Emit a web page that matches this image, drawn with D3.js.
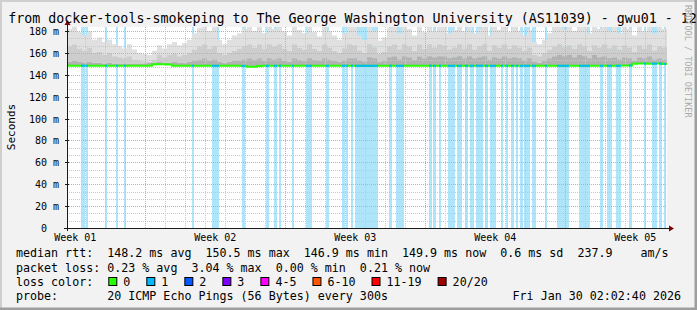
<!DOCTYPE html>
<html>
<head>
<meta charset="utf-8">
<script src="https://cdn.jsdelivr.net/npm/d3@7"></script>
<style>
  body { margin: 0; background: #fff; }
  svg { display: block; }
  text { font-family: "DejaVu Sans Mono", monospace; white-space: pre; }
</style>
</head>
<body>
<svg width="697" height="310"></svg>
<script>
// ---- data ----
var titleText = "from docker-tools-smokeping to The George Washington University (AS11039) - gwu01 - 12";
var startTime = new Date(2025, 11, 31, 2, 2, 40);   // left edge of the plot
var stepSeconds = 4320;                              // one column = one rrd step
var stepCount = 600;
var bucketSize = 5;                                  // smoke / median read every 5 steps

var yTickValues = [0, 20, 40, 60, 80, 100, 120, 140, 160, 180];
var yTickLabels = ["0  ", "20 m", "40 m", "60 m", "80 m", "100 m", "120 m", "140 m", "160 m", "180 m"];
var weekLabels = ["Week 01", "Week 02", "Week 03", "Week 04", "Week 05"];

// smoke: top of the lightest band (max ping), ms
var smokeMax = [
  182,184,179,176,180,172,174,170,172,168,
  166,164,168,163,160,159,158,162,167,164,
  168,170,167,169,172,178,183,184,180,184,
  172,168,172,176,178,182,184,180,184,178,
  184,182,184,180,176,184,181,178,184,179,
  175,184,180,176,172,178,184,184,176,172,
  184,180,171,174,183,184,178,184,182,176,
  184,179,184,180,184,184,178,181,184,180,
  184,178,182,184,176,184,181,184,179,184,
  180,176,181,170,168,172,178,184,184,182,
  184,180,184,184,178,184,182,184,180,184,
  178,184,182,176,184,180,184,178,184,182];
// smoke: top of the middle grey band
var smokeHigh = [
  166,168,164,162,165,160,161,158,160,157,
  156,155,157,154,153,152,152,154,158,156,
  158,159,157,158,160,163,166,168,164,166,
  160,158,160,162,164,166,168,165,168,164,
  168,166,168,164,162,168,165,163,168,164,
  162,168,165,162,160,164,168,167,162,160,
  168,165,159,161,166,168,163,168,166,162,
  168,164,168,165,168,167,163,165,168,164,
  168,163,166,168,162,167,165,168,164,167,
  165,162,165,158,157,160,163,166,168,165,
  167,164,168,166,162,167,165,168,164,167,
  163,167,165,161,167,164,168,162,166,165];
// smoke: top of the dark band next to the median
var smokeLow = [
  152,153,152,151,152,151,151,150,151,150,
  150,150,150,150,150,150,151,151,152,151,
  151,152,151,151,152,153,154,155,153,154,
  152,151,152,153,153,154,155,154,155,153,
  155,154,155,153,152,155,154,153,155,154,
  153,155,154,153,152,153,155,155,153,152,
  156,155,152,153,156,157,154,157,156,154,
  157,155,157,156,157,157,155,156,157,155,
  157,155,156,157,154,156,155,157,155,156,
  155,153,155,152,151,153,155,157,158,157,
  158,156,158,157,155,158,156,157,155,156,
  154,156,155,153,156,155,157,154,155,154];
// median rtt, ms
var medianRtt = [
  148.3,148.3,148.3,148.3,148.3,148.3,148.3,148.3,148.3,148.3,
  148.3,148.3,148.3,148.3,148.3,148.3,148.3,149.6,149.7,149.6,
  149.5,148.2,148.2,148.2,148.2,148.2,148.2,148.2,148.2,148.2,
  148.2,148.2,148.2,148.2,148.2,148.1,147.3,147.4,148.1,148.2,
  148.2,148.2,148.3,148.2,148.2,148.2,148.3,148.2,148.2,148.2,
  148.2,148.2,148.2,148.3,148.2,148.2,148.2,148.2,148.2,148.2,
  148.3,148.2,148.2,148.2,148.3,148.2,148.2,148.2,148.3,148.2,
  148.2,148.2,148.3,148.2,148.2,148.2,148.2,148.3,148.2,148.2,
  148.2,148.3,148.2,148.2,148.2,148.2,148.3,148.2,148.2,148.2,
  148.2,148.2,148.2,148.2,148.3,148.2,148.2,148.2,148.2,148.2,
  148.3,148.2,148.2,148.2,148.2,148.3,148.2,148.2,148.2,148.2,
  148.4,148.4,148.5,150.1,150.2,150.2,150.1,150.2,150.2,149.9];
// steps with 1/20 packets lost: [first step, step after last]
var lossRuns = [
  [14,18],[19,21],[38,40],[49,51],[57,59],[125,127],[145,152],[175,178],[199,202],
  [207,210],[212,214],[225,227],[239,245],[259,262],[275,278],[279,281],[284,286],
  [288,311],[322,325],[329,337],[362,365],[366,369],[372,374],[381,388],[390,395],
  [398,401],[403,407],[409,416],[418,421],[423,429],[434,436],[439,441],[444,447],
  [449,451],[453,456],[457,463],[465,469],[478,480],[490,502],[512,523],[533,536],
  [540,545],[549,554],[562,565],[577,579],[585,590],[592,595],[597,599]];

var legendRtt = "median rtt:  148.2 ms avg  150.5 ms max  146.9 ms min  149.9 ms now  0.6 ms sd  237.9    am/s";
var legendLoss = "packet loss: 0.23 % avg  3.04 % max  0.00 % min  0.21 % now";
var lossNames = ["0", "1", "2", "3", "4-5", "6-10", "11-19", "20/20"];
var lossColors = ["#26ff00", "#00b8ff", "#0059ff", "#7e00ff", "#ff00ff", "#ff5500", "#ff0000", "#a10000"];
var probeText = "probe:       20 ICMP Echo Pings (56 Bytes) every 300s";
var stampText = "Fri Jan 30 02:02:40 2026";

// ---- drawing ----
var svg = d3.select("svg"),
    plot = {left: 67, right: 667, top: 27, bottom: 228};

function stepTime(i) { return new Date(startTime.getTime() + i * stepSeconds * 1000); }

var x = d3.scaleTime().domain([startTime, stepTime(stepCount)]).range([plot.left, plot.right]),
    y = d3.scaleLinear().domain([0, 180]).range([plot.bottom, 31]);

// frame
svg.append("rect").attr("width", 697).attr("height", 310).attr("fill", "#f2f2f2");
svg.append("path").attr("d", "M0,310 V0 H697").attr("fill", "none").attr("stroke", "#cfcfcf").attr("stroke-width", 4);
svg.append("path").attr("d", "M0,310 H697 V0").attr("fill", "none").attr("stroke", "#9e9e9e").attr("stroke-width", 5);

svg.append("defs").append("clipPath").attr("id", "clip")
  .append("rect").attr("x", plot.left).attr("y", plot.top)
  .attr("width", plot.right - plot.left).attr("height", plot.bottom - plot.top);

svg.append("rect")
    .attr("x", plot.left).attr("y", plot.top)
    .attr("width", plot.right - plot.left).attr("height", plot.bottom - plot.top)
    .attr("fill", "#fff");

var g = svg.append("g").attr("clip-path", "url(#clip)");

// loss background
g.append("g").selectAll("rect")
    .data(lossRuns)
  .enter().append("rect")
    .attr("x", function(d) { return x(stepTime(d[0])); })
    .attr("width", function(d) { return x(stepTime(d[1])) - x(stepTime(d[0])); })
    .attr("y", plot.top)
    .attr("height", plot.bottom - plot.top)
    .attr("fill", "#aee5fb");

// smoke
var buckets = d3.range(medianRtt.length + 1).map(function(i) {
  var k = Math.min(i, medianRtt.length - 1);
  return {t: stepTime(i * bucketSize), max: smokeMax[k], high: smokeHigh[k], low: smokeLow[k], med: medianRtt[k]};
});

function band(top, bottom, color) {
  g.append("path")
      .datum(buckets)
      .attr("fill", color)
      .attr("d", d3.area()
        .curve(d3.curveStepAfter)
        .x(function(d) { return x(d.t); })
        .y0(function(d) { return y(d[bottom]); })
        .y1(function(d) { return y(d[top]); }));
}
band("max", "high", "#e0e0e0");
band("high", "low", "#cdcdcd");
band("low", "med", "#b2b2b2");

// grid
var gridG = g.append("g").attr("fill", "none").attr("stroke-width", 1).attr("stroke-dasharray", "1,1");
d3.range(0, 184, 20 / 3).forEach(function(v, i) {
  if (i % 3 === 0) return;
  gridG.append("line").attr("x1", plot.left).attr("x2", plot.right)
    .attr("y1", Math.round(y(v)) + 0.5).attr("y2", Math.round(y(v)) + 0.5)
    .attr("stroke", "#c8c8c8");
});
d3.timeDay.range(startTime, stepTime(stepCount)).forEach(function(t) {
  if (t.getDay() === 0) return;
  gridG.append("line").attr("y1", plot.top).attr("y2", plot.bottom)
    .attr("x1", Math.round(x(t)) + 0.5).attr("x2", Math.round(x(t)) + 0.5)
    .attr("stroke", "#c8c8c8");
});
yTickValues.slice(1).forEach(function(v) {
  gridG.append("line").attr("x1", plot.left).attr("x2", plot.right)
    .attr("y1", Math.round(y(v)) + 0.5).attr("y2", Math.round(y(v)) + 0.5)
    .attr("stroke", "#f29a9a");
});
d3.timeSunday.range(startTime, stepTime(stepCount)).forEach(function(t) {
  gridG.append("line").attr("y1", plot.top).attr("y2", plot.bottom)
    .attr("x1", Math.round(x(t)) + 0.5).attr("x2", Math.round(x(t)) + 0.5)
    .attr("stroke", "#f29a9a");
});

// median line, green, blue where a packet was lost
var medianLine = d3.line()
    .curve(d3.curveStepAfter)
    .x(function(d) { return x(d.t); })
    .y(function(d) { return y(d.med); });

g.append("path")
    .datum(buckets)
    .attr("fill", "none")
    .attr("stroke", lossColors[0])
    .attr("stroke-width", 2)
    .attr("d", medianLine);

g.append("g").selectAll("line")
    .data(lossRuns)
  .enter().append("line")
    .attr("x1", function(d) { return x(stepTime(d[0])); })
    .attr("x2", function(d) { return x(stepTime(d[1])); })
    .attr("y1", function(d) { return y(medianRtt[Math.floor(d[0] / bucketSize)]); })
    .attr("y2", function(d) { return y(medianRtt[Math.floor(d[0] / bucketSize)]); })
    .attr("stroke", lossColors[1])
    .attr("stroke-width", 2);

// axes
svg.append("line").attr("x1", plot.left - 3).attr("x2", plot.right + 3)
  .attr("y1", plot.bottom + 0.5).attr("y2", plot.bottom + 0.5).attr("stroke", "#1a1a1a");
svg.append("line").attr("x1", plot.left + 0.5).attr("x2", plot.left + 0.5)
  .attr("y1", plot.bottom + 3).attr("y2", plot.top - 3).attr("stroke", "#1a1a1a");
svg.append("path").attr("fill", "#7f0000")
  .attr("d", "M" + (plot.right + 2) + "," + (plot.bottom - 2.5) + " L" + (plot.right + 7) + "," + (plot.bottom + 0.5) + " L" + (plot.right + 2) + "," + (plot.bottom + 3.5) + " Z");
svg.append("path").attr("fill", "#7f0000")
  .attr("d", "M" + (plot.left - 2.5) + "," + (plot.top - 2) + " L" + (plot.left + 0.5) + "," + (plot.top - 7) + " L" + (plot.left + 3.5) + "," + (plot.top - 2) + " Z");

// y ticks + labels
yTickValues.forEach(function(v, i) {
  svg.append("line").attr("x1", plot.left - 2).attr("x2", plot.left + 2)
    .attr("y1", Math.round(y(v)) + 0.5).attr("y2", Math.round(y(v)) + 0.5).attr("stroke", "#1a1a1a");
  svg.append("text")
    .attr("x", 59).attr("y", y(v) + 4)
    .attr("text-anchor", "end")
    .style("font-size", "10px")
    .text(yTickLabels[i]);
});

// week labels, centred mid-week
var firstSunday = d3.timeSunday.floor(startTime);
weekLabels.forEach(function(label, k) {
  var t = d3.timeHour.offset(d3.timeSunday.offset(firstSunday, k), 84);
  svg.append("text")
    .attr("x", x(t)).attr("y", 241)
    .attr("text-anchor", "middle")
    .style("font-size", "10px")
    .text(label);
});

// titles
svg.append("text").attr("x", 8.3).attr("y", 23).style("font-size", "13.3px").text(titleText);
svg.append("text")
    .attr("transform", "translate(15,127) rotate(-90)")
    .attr("text-anchor", "middle")
    .style("font-size", "11px")
    .text("Seconds");
svg.append("text")
    .attr("transform", "translate(685,5) rotate(90)")
    .style("font-size", "8.5px")
    .attr("fill", "#aaaaaa")
    .text("RRDTOOL / TOBI OETIKER");

// legend
svg.append("text").attr("x", 16).attr("y", 257.3).style("font-size", "11.66px").text(legendRtt);
svg.append("text").attr("x", 16).attr("y", 271.7).style("font-size", "11.66px").text(legendLoss);
svg.append("text").attr("x", 16).attr("y", 286).style("font-size", "11.66px").text("loss color:");
var lx = 108.3;
lossNames.forEach(function(name, i) {
  svg.append("rect").attr("x", lx + 0.5).attr("y", 277.5).attr("width", 8).attr("height", 8)
    .attr("fill", lossColors[i]).attr("stroke", "#000");
  svg.append("text").attr("x", lx + 15).attr("y", 286).style("font-size", "11.66px").text(name);
  lx += 15 + name.length * 7.02 + 16;
});
svg.append("text").attr("x", 16).attr("y", 300).style("font-size", "11.66px").text(probeText);
svg.append("text").attr("x", 681).attr("y", 300).attr("text-anchor", "end").style("font-size", "11.66px").text(stampText);
</script>
</body>
</html>
